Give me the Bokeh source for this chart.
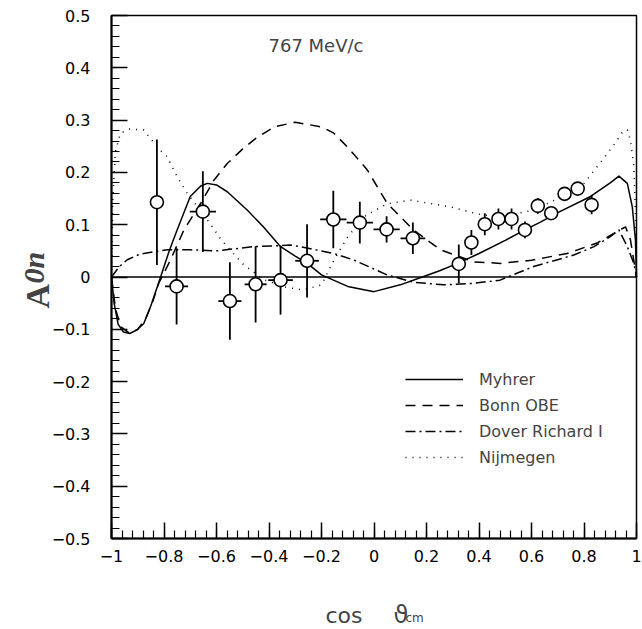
import numpy as np
from bokeh.plotting import figure
from bokeh.models import FixedTicker, Label, Legend, LegendItem, ColumnDataSource, BoxAnnotation
from bokeh.embed import file_html
from bokeh.resources import INLINE

# ---------------- data ----------------
x_data = [-0.827, -0.752, -0.652, -0.549, -0.451, -0.356, -0.255, -0.155, -0.054, 0.048, 0.148,
          0.323, 0.371, 0.422, 0.474, 0.524, 0.575, 0.624, 0.675, 0.726, 0.776, 0.829]
y_data = [0.143, -0.018, 0.125, -0.046, -0.014, -0.006, 0.031, 0.110, 0.104, 0.091, 0.074,
          0.025, 0.066, 0.101, 0.111, 0.111, 0.090, 0.136, 0.122, 0.159, 0.169, 0.138]
y_err = [0.120, 0.073, 0.077, 0.074, 0.073, 0.066, 0.070, 0.055, 0.040, 0.025, 0.030,
         0.037, 0.024, 0.021, 0.020, 0.020, 0.016, 0.015, 0.012, 0.010, 0.010, 0.018]
x_err = [0.0, 0.044, 0.050, 0.044, 0.042, 0.047, 0.045, 0.050, 0.050, 0.050, 0.047,
         0.0, 0.0, 0.0, 0.0, 0.0, 0.0, 0.0, 0.0, 0.0, 0.0, 0.0]

myhrer_x = [-1.0, -0.99, -0.975, -0.955, -0.93, -0.9, -0.877, -0.85, -0.813, -0.78, -0.75, -0.7,
            -0.66, -0.635, -0.6, -0.559, -0.483, -0.42, -0.356, -0.3, -0.254, -0.2, -0.1, 0.0,
            0.1, 0.184, 0.25, 0.323, 0.4, 0.5, 0.575, 0.634, 0.7, 0.825, 0.9, 0.933, 0.965,
            0.984, 0.996, 1.0]
myhrer_y = [0.0, -0.05, -0.09, -0.105, -0.108, -0.1, -0.089, -0.055, 0.0, 0.05, 0.09, 0.154,
            0.174, 0.179, 0.176, 0.163, 0.128, 0.095, 0.058, 0.04, 0.026, 0.004, -0.018, -0.028,
            -0.015, 0.0, 0.012, 0.027, 0.045, 0.07, 0.09, 0.105, 0.123, 0.154, 0.18, 0.193, 0.179,
            0.134, 0.071, 0.0]

bonn_x = [-1.0, -0.985, -0.965, -0.93, -0.9, -0.87, -0.845, -0.82, -0.775, -0.724, -0.66, -0.61,
          -0.559, -0.5, -0.45, -0.38, -0.3, -0.2, -0.153, -0.1, -0.026, 0.05, 0.15, 0.253, 0.38,
          0.482, 0.6, 0.736, 0.85, 0.927, 0.958, 0.977, 1.0]
bonn_y = [0.0, -0.06, -0.095, -0.108, -0.1, -0.08, -0.05, -0.012, 0.033, 0.09, 0.141, 0.185,
          0.217, 0.245, 0.265, 0.287, 0.296, 0.287, 0.275, 0.248, 0.205, 0.141, 0.09, 0.052, 0.029,
          0.026, 0.032, 0.045, 0.065, 0.087, 0.096, 0.071, 0.0]

dover_x = [-1.0, -0.97, -0.94, -0.9, -0.877, -0.788, -0.7, -0.6, -0.458, -0.318, -0.28, -0.153,
           -0.077, 0.05, 0.15, 0.266, 0.38, 0.48, 0.608, 0.761, 0.838, 0.9, 0.933, 0.965, 0.99, 1.0]
dover_y = [0.0, 0.02, 0.033, 0.042, 0.045, 0.052, 0.052, 0.05, 0.058, 0.061, 0.058, 0.045,
           0.0325, 0.004, -0.01, -0.015, -0.012, -0.006, 0.02, 0.042, 0.058, 0.077, 0.09, 0.058,
           0.026, 0.0]

nijmegen_x = [-1.0, -0.995, -0.985, -0.966, -0.93, -0.877, -0.82, -0.788, -0.75, -0.712, -0.65,
              -0.58, -0.5, -0.42, -0.34, -0.27, -0.2, -0.15, -0.1, -0.03, 0.05, 0.14, 0.29, 0.418,
              0.5, 0.609, 0.7, 0.8, 0.88, 0.927, 0.95, 0.965, 0.977, 0.99, 0.996, 1.0]
nijmegen_y = [0.0, 0.15, 0.24, 0.275, 0.283, 0.281, 0.245, 0.23, 0.192, 0.16, 0.12, 0.07, 0.025,
              -0.005, -0.019, -0.025, -0.015, 0.035, 0.077, 0.118, 0.14, 0.147, 0.134, 0.118,
              0.117, 0.128, 0.15, 0.179, 0.23, 0.262, 0.28, 0.281, 0.262, 0.211, 0.12, 0.0]

xtick_vals = [-1.0, -0.8, -0.6, -0.4, -0.2, 0.0, 0.2, 0.4, 0.6, 0.8, 1.0]
xtick_labels = ["\u22121", "\u22120.8", "\u22120.6", "\u22120.4", "\u22120.2", "0", "0.2", "0.4", "0.6", "0.8", "1"]
ytick_vals = [-0.5, -0.4, -0.3, -0.2, -0.1, 0.0, 0.1, 0.2, 0.3, 0.4, 0.5]
ytick_labels = ["\u22120.5", "\u22120.4", "\u22120.3", "\u22120.2", "\u22120.1", "0", "0.1", "0.2", "0.3", "0.4", "0.5"]

legend_labels = ["Myhrer", "Bonn OBE", "Dover Richard I", "Nijmegen"]

X_MIN, X_MAX = -1.0, 1.0
Y_MIN, Y_MAX = -0.5, 0.5

# ---------------- figure ----------------
# frame covers the whole canvas; axes are pinned to the box edges with fixed_location
W, H = 642, 629
BOX_L, BOX_R, BOX_T, BOX_B = 111, 636, 15, 538
sx = (BOX_R - BOX_L) / (X_MAX - X_MIN)
sy = (BOX_B - BOX_T) / (Y_MAX - Y_MIN)
xr = (X_MIN - BOX_L / sx, X_MAX + (W - BOX_R) / sx)
yr = (Y_MIN - (H - BOX_B) / sy, Y_MAX + BOX_T / sy)

p = figure(width=W, height=H, x_range=xr, y_range=yr,
           output_backend="svg", toolbar_location=None,
           min_border_left=0, min_border_right=0, min_border_top=0, min_border_bottom=0)
p.xgrid.visible = False
p.ygrid.visible = False
p.outline_line_color = None
p.background_fill_color = "white"
p.border_fill_color = "white"

FONT = "DejaVu Sans"
for ax in (p.xaxis[0], p.yaxis[0]):
    ax.axis_line_width = 2
    ax.axis_line_color = "black"
    ax.major_tick_in = 16
    ax.major_tick_out = 0
    ax.minor_tick_in = 8
    ax.minor_tick_out = 0
    ax.major_tick_line_width = 1.5
    ax.minor_tick_line_width = 1.2
    ax.major_tick_line_color = "black"
    ax.minor_tick_line_color = "black"
    ax.major_label_text_font = FONT
    ax.major_label_text_font_size = "16px"
    ax.major_label_text_color = "black"

p.xaxis.fixed_location = Y_MIN
p.yaxis.fixed_location = X_MIN
p.xaxis.bounds = (X_MIN, X_MAX)
p.yaxis.bounds = (Y_MIN, Y_MAX)
p.xaxis.ticker = FixedTicker(ticks=xtick_vals, minor_ticks=list(np.round(np.arange(-1.0, 1.0001, 0.04), 3)))
p.yaxis.ticker = FixedTicker(ticks=ytick_vals, minor_ticks=list(np.round(np.arange(-0.5, 0.5001, 0.02), 3)))
p.xaxis.major_label_overrides = {v: s for v, s in zip(xtick_vals, xtick_labels)}
p.yaxis.major_label_overrides = {v: s for v, s in zip(ytick_vals, ytick_labels)}
p.xaxis.major_label_standoff = 11
p.yaxis.major_label_standoff = 21

# box outline (top / right edges)
p.add_layout(BoxAnnotation(left=X_MIN, right=X_MAX, bottom=Y_MIN, top=Y_MAX,
                           fill_alpha=0, line_color="black", line_width=1.5, line_alpha=1))
# zero line
p.segment(x0=[X_MIN], y0=[0], x1=[X_MAX], y1=[0], line_color="black", line_width=1.5)

# curves
r1 = p.line(myhrer_x, myhrer_y, line_color="black", line_width=1.5)
r2 = p.line(bonn_x, bonn_y, line_color="black", line_width=1.5, line_dash="10 7")
r3 = p.line(dover_x, dover_y, line_color="black", line_width=1.5, line_dash="10 4 2 4")
r4 = p.line(nijmegen_x, nijmegen_y, line_color="black", line_width=1.5, line_dash="1 6")

# data points with error bars
xd = np.array(x_data); yd = np.array(y_data); ye = np.array(y_err); xe = np.array(x_err)
src = ColumnDataSource(dict(x=xd, y=yd, ylo=yd - ye, yhi=yd + ye, xlo=xd - xe, xhi=xd + xe))
p.segment(x0="x", y0="ylo", x1="x", y1="yhi", source=src, line_color="black", line_width=1.8)
p.segment(x0="xlo", y0="y", x1="xhi", y1="y", source=src, line_color="black", line_width=1.8)
p.scatter("x", "y", source=src, marker="circle", size=13, fill_color="white",
          line_color="black", line_width=1.6)

# legend (frame == canvas, location measured from the bottom-left)
legend = Legend(items=[LegendItem(label=lab, renderers=[r]) for lab, r in zip(legend_labels, [r1, r2, r3, r4])],
                location=(405, H - 467), border_line_color=None, background_fill_alpha=0,
                label_text_font=FONT, label_text_font_size="16px", glyph_width=58,
                glyph_height=20, label_height=20, label_standoff=16, spacing=6, padding=0, margin=0)
p.add_layout(legend)

# texts
p.add_layout(Label(x=-0.4019, y=0.4426, text="767 MeV/c", text_font=FONT, text_font_size="18px",
                   text_baseline="alphabetic", text_align="left"))
p.add_layout(Label(x=-1.2819, y=-0.0602, text="A", text_font="Liberation Serif", text_font_size="34px",
                   text_font_style="bold", angle=np.pi / 2, text_baseline="alphabetic", text_align="left"))
p.add_layout(Label(x=-1.2971, y=-0.0124, text="0n", text_font="Liberation Serif", text_font_size="30px",
                   text_font_style="bold italic", angle=np.pi / 2, text_baseline="alphabetic", text_align="left"))
p.add_layout(Label(x=-0.1848, y=-0.6472, text="cos", text_font=FONT, text_font_size="22px",
                   text_baseline="alphabetic", text_align="left"))
p.add_layout(Label(x=0.0743, y=-0.6472, text="\u03d1", text_font=FONT, text_font_size="24px",
                   text_baseline="alphabetic", text_align="left"))
p.add_layout(Label(x=0.1200, y=-0.6511, text="cm", text_font=FONT, text_font_size="12px",
                   text_baseline="alphabetic", text_align="left"))

open("out.html", "w").write(file_html(p, INLINE))
